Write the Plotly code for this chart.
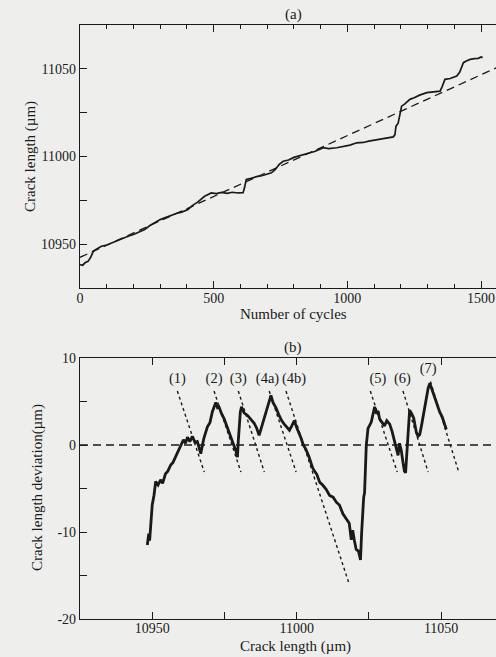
import plotly.graph_objects as go

# ---------------- data: panel (a) ----------------
cycles = [0, 10, 20, 30, 40, 50, 60, 70, 80, 100, 120, 140, 160, 180, 200, 220, 242, 260, 280,
          300, 317, 340, 360, 380, 404, 420, 440, 466, 480, 491, 510, 530, 550, 570, 590, 610,
          615, 622, 640, 660, 680, 700, 716, 730, 745, 760, 780, 800, 835, 860, 880, 910, 930,
          960, 990, 1010, 1035, 1060, 1080, 1110, 1140, 1160, 1172, 1178, 1182, 1190, 1203,
          1215, 1234, 1250, 1270, 1297, 1320, 1340, 1347, 1355, 1365, 1385, 1409, 1420, 1434,
          1445, 1459, 1475, 1490, 1500, 1506]
crack_len = [10938.3, 10938.0, 10939.5, 10940.2, 10942.5, 10946.0, 10947.0, 10948.0, 10948.8,
             10949.5, 10950.8, 10952.0, 10953.0, 10954.5, 10955.5, 10957.0, 10958.3, 10960.5,
             10962.5, 10964.0, 10965.0, 10966.5, 10967.5, 10968.3, 10969.7, 10972.0, 10974.0,
             10977.3, 10978.5, 10979.2, 10978.8, 10979.5, 10979.0, 10979.6, 10979.2, 10979.4,
             10982.0, 10986.9, 10987.5, 10988.5, 10989.0, 10990.0, 10990.7, 10992.5, 10995.5,
             10997.3, 10998.0, 10999.5, 11001.1, 11002.0, 11003.0, 11005.0, 11004.5, 11005.0,
             11006.0, 11006.5, 11007.8, 11008.0, 11008.8, 11009.7, 11010.5, 11010.8, 11011.2,
             11012.5, 11017.3, 11019.0, 11028.7, 11030.0, 11032.6, 11033.5, 11035.0, 11036.4,
             11036.8, 11037.0, 11037.3, 11040.0, 11044.0, 11044.5, 11045.9, 11048.0, 11053.5,
             11054.5, 11055.4, 11055.8, 11056.0, 11056.8, 11056.4]
fit_cycles = [0, 1556]
fit_len = [10942.5, 11050.5]

# ---------------- data: panel (b) ----------------
dev_x = [10948.3, 10948.8, 10949.1, 10949.4, 10949.8, 10950.0, 10950.6, 10951.2, 10952.0, 10952.9,
         10953.6, 10954.6, 10955.4, 10956.4, 10957.2, 10958.1, 10959.0, 10959.8, 10960.8, 10961.5,
         10962.2, 10963.0, 10963.9, 10964.8, 10965.6, 10966.3, 10966.8, 10967.4, 10967.9, 10969.1,
         10970.0, 10970.8, 10971.4, 10972.0, 10972.6, 10973.1, 10974.0, 10974.9, 10976.0, 10977.2,
         10978.2, 10978.9, 10979.5, 10979.8, 10980.1, 10980.5, 10980.9, 10981.8, 10983.0, 10984.2,
         10985.3, 10986.2, 10987.0, 10987.8, 10988.8, 10989.6, 10990.5, 10991.1, 10991.8, 10992.8,
         10993.8, 10994.8, 10995.7, 10996.6, 10997.5, 10998.3, 10999.2, 11000.0, 11000.8, 11001.5,
         11002.3, 11003.2, 11004.2, 11005.6, 11007.0, 11008.0, 11009.0, 11010.2, 11011.4, 11012.6,
         11013.8, 11014.8, 11016.0, 11017.1, 11018.2, 11018.9, 11019.4, 11020.0, 11020.6, 11021.4,
         11022.1, 11022.5, 11022.9, 11023.2, 11023.5, 11023.8, 11024.1, 11024.7, 11025.3, 11025.8,
         11026.4, 11027.0, 11027.6, 11028.2, 11028.7, 11029.5, 11030.4, 11031.2, 11032.2, 11033.0,
         11033.9, 11034.5, 11035.1, 11035.6, 11036.2, 11036.8, 11037.3, 11037.7, 11038.1, 11038.5,
         11039.1, 11039.8, 11040.5, 11041.0, 11041.4, 11042.0, 11042.6, 11043.2, 11043.8, 11044.4,
         11044.9, 11045.5, 11046.1, 11046.6, 11047.2, 11047.8, 11048.6, 11049.5, 11050.4, 11051.3,
         11051.8]
dev_y = [-11.5, -10.2, -11.0, -9.2, -8.0, -6.9, -5.8, -4.2, -4.6, -4.0,
         -4.4, -3.3, -3.0, -2.3, -2.0, -1.3, -0.8, 0.0, 0.6, 0.2,
         0.9, 0.4, 1.0, 0.3, 0.4, -0.4, -1.0, 0.0, 0.8, 2.1,
         2.6, 3.8, 4.3, 4.9, 4.3, 4.4, 3.6, 3.0, 2.0, 0.8,
         0.0, -0.6, -1.4, 0.5, 2.7, 3.8, 4.4, 3.7, 3.4, 2.9,
         2.5, 1.9, 1.1, 2.0, 3.1, 3.9, 5.0, 5.7, 4.9, 4.3,
         3.5, 2.8, 2.4, 2.0, 1.7, 2.2, 2.8, 2.0, 1.4, 0.8,
         0.0, -0.5, -1.3, -2.7, -3.4, -4.3, -4.6, -5.1, -5.8, -6.0,
         -6.6, -6.9, -7.9, -8.4, -9.0, -10.9, -9.8, -11.0, -12.0, -12.2,
         -13.2, -10.0, -6.7, -6.0, -5.5, -2.5, 0.0, 1.9, 2.2, 2.6,
         3.5, 4.4, 3.6, 3.9, 3.0, 2.6, 2.2, 2.8, 2.4, 1.6,
         0.4, -0.3, -1.2, 0.2, -0.6, -2.0, -3.0, -3.2, -1.0, 1.5,
         4.0, 3.6, 3.1, 2.2, 1.5, 1.0, 1.2, 2.2, 3.4, 4.6,
         5.7, 6.5, 7.1, 6.6, 6.1, 5.5, 4.6, 3.8, 3.2, 2.3,
         1.8]
zero_x = [10925, 11075]
zero_y = [0, 0]

# slope lines (start / end) and their labels
seg_labels = ["(1)", "(2)", "(3)", "(4a)", "(4b)", "(5)", "(6)", "(7)"]
seg_x0 = [10958.7, 10971.4, 10979.8, 10990.5, 10996.3, 11025.5, 11036.8, 11046.3]
seg_y0 = [6.2, 6.2, 6.2, 6.2, 6.2, 6.2, 6.2, 7.3]
seg_x1 = [10968.0, 10980.7, 10988.8, 10999.8, 11018.3, 11034.8, 11045.5, 11056.1]
seg_y1 = [-3.1, -3.1, -3.1, -3.1, -16.1, -3.1, -3.1, -3.1]
lab_x = [10958.7, 10971.4, 10979.8, 10989.9, 10999.1, 11028.1, 11036.6, 11045.5]
lab_y = [7.5, 7.5, 7.5, 7.5, 7.5, 7.5, 7.5, 8.7]

# ---------------- figure ----------------
W, H = 496, 657
FONT = "Liberation Serif"
INK = "#1a1a1a"
BG = "#eeefec"

fig = go.Figure()

fig.add_trace(go.Scatter(x=fit_cycles, y=fit_len, mode="lines", xaxis="x", yaxis="y",
                         line=dict(color=INK, width=1.3, dash="8px,5px"), hoverinfo="skip"))
fig.add_trace(go.Scatter(x=cycles, y=crack_len, mode="lines", xaxis="x", yaxis="y",
                         line=dict(color=INK, width=1.7), hoverinfo="skip"))

fig.add_trace(go.Scatter(x=zero_x, y=zero_y, mode="lines", xaxis="x2", yaxis="y2",
                         line=dict(color=INK, width=1.3, dash="8px,5px"), hoverinfo="skip"))
for x0, y0, x1, y1 in zip(seg_x0, seg_y0, seg_x1, seg_y1):
    fig.add_trace(go.Scatter(x=[x0, x1], y=[y0, y1], mode="lines", xaxis="x2", yaxis="y2",
                             line=dict(color=INK, width=1.4, dash="dot"), hoverinfo="skip"))
fig.add_trace(go.Scatter(x=dev_x, y=dev_y, mode="lines", xaxis="x2", yaxis="y2",
                         line=dict(color=INK, width=2.8), hoverinfo="skip"))
fig.add_trace(go.Scatter(x=lab_x, y=lab_y, mode="text", text=seg_labels, xaxis="x2", yaxis="y2",
                         textposition="middle center",
                         textfont=dict(family=FONT, size=14.5, color=INK), hoverinfo="skip"))

ax_common = dict(showline=True, linecolor=INK, linewidth=1.2, ticks="inside", tickcolor=INK,
                 tickwidth=1.2, showgrid=False, zeroline=False, automargin=False,
                 tickfont=dict(family=FONT, size=14, color=INK))

L = 80
dom_a = [1 - 288 / H, 1 - 25 / H]
dom_b = [1 - 619 / H, 1 - 358 / H]

fig.update_layout(
    width=W, height=H,
    margin=dict(l=L, r=0, t=0, b=0, pad=0, autoexpand=False),
    paper_bgcolor=BG, plot_bgcolor=BG,
    showlegend=False,
    xaxis=dict(domain=[0, 1], anchor="y", range=[0, 1556], tickvals=[0, 500, 1000, 1500],
               ticklen=7, mirror="ticks", ticklabelstandoff=-3,
               minor=dict(dtick=100, ticklen=4, ticks="inside", tickcolor=INK, tickwidth=1),
               **ax_common),
    yaxis=dict(domain=dom_a, anchor="x", range=[10925, 11075],
               tickvals=[10950, 10975, 11000, 11025, 11050],
               ticktext=["10950", "", "11000", "", "11050"], ticklen=7, **ax_common),
    xaxis2=dict(domain=[0, 1], anchor="y2", range=[10925, 11069],
                tickvals=[10950, 10975, 11000, 11025, 11050],
                ticktext=["10950", "", "11000", "", "11050"], ticklen=7, mirror="ticks",
                ticklabelstandoff=-4, **ax_common),
    yaxis2=dict(domain=dom_b, anchor="x2", range=[-20, 10],
                tickvals=[-20, -15, -10, -5, 0, 5, 10],
                ticktext=["-20", "", "-10", "", "0", "", "10"], ticklen=7, **ax_common),
)

def px_y(v):
    return 1 - v / H

ann_font = dict(family=FONT, size=15, color=INK)
anns = [
    ("(a)", 293, 15, 0), ("(b)", 293, 347, 0),
    ("Number of cycles", 293, 314, 0), ("Crack length (µm)", 295, 646, 0),
    ("Crack length (µm)", 30, 157, -90), ("Crack length deviation(µm)", 37, 488, -90),
]
for txt, x, y, ang in anns:
    fig.add_annotation(text=txt, xref="paper", yref="paper", x=(x - L) / (W - L), y=px_y(y),
                       showarrow=False, textangle=ang, font=ann_font,
                       xanchor="center", yanchor="middle")

page_fix = (
    "var s=document.createElement('style');"
    "s.textContent='html,body{margin:0;padding:0;width:496px;height:657px;overflow:hidden;}';"
    "document.head.appendChild(s);"
)
fig.write_html("out.html", config={"displayModeBar": False}, post_script=page_fix)
